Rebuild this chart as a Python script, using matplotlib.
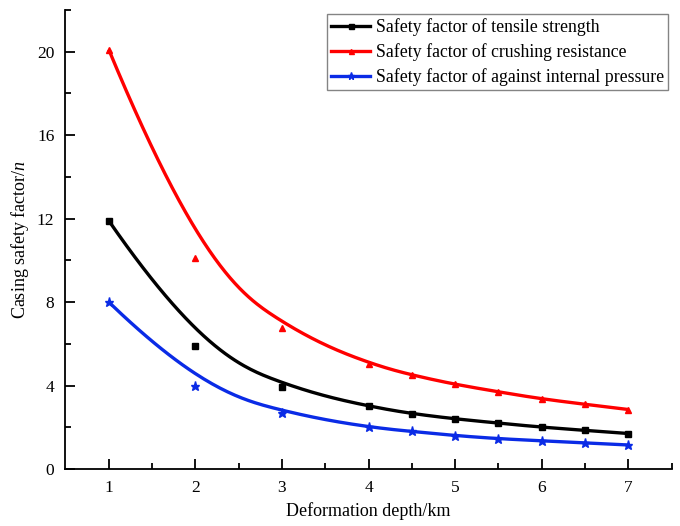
import numpy as np
import matplotlib
matplotlib.use("Agg")
import matplotlib.pyplot as plt
from matplotlib.lines import Line2D

depth = [1, 2, 3, 4, 4.5, 5, 5.5, 6, 6.5, 7]
tensile = [11.9, 5.9, 3.95, 3.0, 2.65, 2.4, 2.2, 2.0, 1.85, 1.7]
crushing = [20.1, 10.1, 6.75, 5.05, 4.5, 4.05, 3.7, 3.35, 3.1, 2.85]
internal = [8.0, 4.0, 2.7, 2.0, 1.8, 1.6, 1.45, 1.35, 1.25, 1.15]
labels = ["Safety factor of tensile strength",
          "Safety factor of crushing resistance",
          "Safety factor of against internal pressure"]
colors = ["black", "#FF0000", "#0A2BE6"]
markers = ["s", "^", "*"]

plt.rcParams['font.family'] = ['Liberation Serif', 'DejaVu Serif']
plt.rcParams['mathtext.fontset'] = 'custom'
plt.rcParams['mathtext.it'] = 'Liberation Serif:italic'
plt.rcParams['mathtext.rm'] = 'Liberation Serif'


def bspline(xs, ys, k=3, num=400):
    P = np.column_stack([xs, ys]).astype(float)
    n = len(P)
    inner = np.linspace(0, 1, n - k + 1)
    t = np.concatenate([np.zeros(k), inner, np.ones(k)])
    u = np.linspace(0, 1, num)
    u[-1] = 1 - 1e-12
    N = np.zeros((num, len(t) - 1))
    for i in range(len(t) - 1):
        N[:, i] = ((u >= t[i]) & (u < t[i + 1])).astype(float)
    for d in range(1, k + 1):
        Nn = np.zeros((num, len(t) - 1 - d))
        for i in range(len(t) - 1 - d):
            a = np.zeros(num)
            b = np.zeros(num)
            if t[i + d] != t[i]:
                a = (u - t[i]) / (t[i + d] - t[i]) * N[:, i]
            if t[i + d + 1] != t[i + 1]:
                b = (t[i + d + 1] - u) / (t[i + d + 1] - t[i + 1]) * N[:, i + 1]
            Nn[:, i] = a + b
        N = Nn
    C = N @ P
    return C[:, 0], C[:, 1]


fig = plt.figure(figsize=(6.8, 5.26), dpi=100)
ax = fig.add_axes([0.0963, 0.1084, 0.8915, 0.8726])

handles = []
for ys, c, m, lab in zip([tensile, crushing, internal], colors, markers, labels):
    cx, cy = bspline(depth, ys)
    ax.plot(cx, cy, color=c, lw=2.4, solid_capstyle='butt')
    ms = 6.5 if m == "*" else 4.5
    ax.plot(depth, ys, linestyle='none', marker=m, color=c, markersize=ms)
    handles.append(Line2D([], [], color=c, lw=2.4, marker=m, markersize=ms * 0.8,
                          label=lab))

ax.set_xlim(0.5, 7.5)
ax.set_ylim(0, 22)
ax.set_xticks([1, 2, 3, 4, 5, 6, 7])
ax.set_xticks(np.arange(1.5, 7.6, 1.0), minor=True)
ax.set_yticks([0, 4, 8, 12, 16, 20])
ax.set_yticks([2, 6, 10, 14, 18, 22], minor=True)
for s in ['top', 'right']:
    ax.spines[s].set_visible(False)
for s in ['left', 'bottom']:
    ax.spines[s].set_linewidth(1.3)
ax.tick_params(which='major', direction='in', length=7, width=1.3,
               labelsize=12.5, pad=8)
ax.tick_params(which='minor', direction='in', length=4, width=1.3)

ax.set_xlabel("Deformation depth/km", fontsize=13, labelpad=4)
ax.set_ylabel("Casing safety factor/$n$", fontsize=13, labelpad=4)

leg = ax.legend(handles=handles, loc='upper right', bbox_to_anchor=(1.0, 1.0),
                fontsize=12.8, frameon=True, fancybox=False, edgecolor='#666666',
                handlelength=2.2, handletextpad=0.3, labelspacing=0.4,
                borderpad=0.25, borderaxespad=0.2)
leg.get_frame().set_linewidth(1.0)

fig.savefig("out.png", dpi=100)
